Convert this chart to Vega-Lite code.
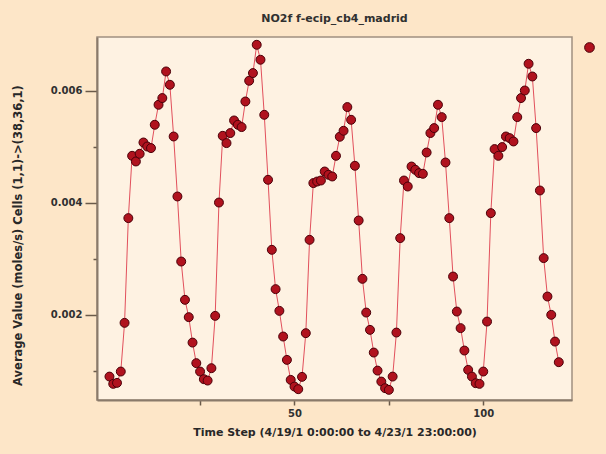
{
  "$schema": "https://vega.github.io/schema/vega-lite/v6.json",
  "width": 475,
  "height": 363,
  "autosize": {"type": "none"},
  "padding": {"left": 97, "top": 37, "right": 34, "bottom": 54},
  "background": "#fde6c8",
  "title": {"text": "NO2f  f-ecip_cb4_madrid", "font": "DejaVu Sans", "fontSize": 11, "fontWeight": "bold", "color": "#303030", "anchor": "middle", "offset": 13},
  "data": {"values": [
    {"step":1,"value":0.000898},{"step":2,"value":0.000768},{"step":3,"value":0.000786},{"step":4,"value":0.000988},
    {"step":5,"value":0.001857},{"step":6,"value":0.003727},{"step":7,"value":0.004839},{"step":8,"value":0.004738},
    {"step":9,"value":0.004875},{"step":10,"value":0.005077},{"step":11,"value":0.005005},{"step":12,"value":0.004977},
    {"step":13,"value":0.005393},{"step":14,"value":0.00575},{"step":15,"value":0.00587},{"step":16,"value":0.006345},
    {"step":17,"value":0.006107},{"step":18,"value":0.005184},{"step":19,"value":0.004113},{"step":20,"value":0.002952},
    {"step":21,"value":0.002268},{"step":22,"value":0.001959},{"step":23,"value":0.001505},{"step":24,"value":0.001138},
    {"step":25,"value":0.000988},{"step":26,"value":0.000852},{"step":27,"value":0.000827},{"step":28,"value":0.001048},
    {"step":29,"value":0.001982},{"step":30,"value":0.004005},{"step":31,"value":0.005196},{"step":32,"value":0.005066},
    {"step":33,"value":0.005245},{"step":34,"value":0.00547},{"step":35,"value":0.005393},{"step":36,"value":0.005352},
    {"step":37,"value":0.005809},{"step":38,"value":0.006179},{"step":39,"value":0.006316},{"step":40,"value":0.006821},
    {"step":41,"value":0.006554},{"step":42,"value":0.005571},{"step":43,"value":0.004411},{"step":44,"value":0.003161},
    {"step":45,"value":0.002459},{"step":46,"value":0.002071},{"step":47,"value":0.001613},{"step":48,"value":0.001196},
    {"step":49,"value":0.000839},{"step":50,"value":0.00072},{"step":51,"value":0.000673},{"step":52,"value":0.000893},
    {"step":53,"value":0.001673},{"step":54,"value":0.003339},{"step":55,"value":0.004352},{"step":56,"value":0.00438},
    {"step":57,"value":0.004398},{"step":58,"value":0.004559},{"step":59,"value":0.0045},{"step":60,"value":0.00447},
    {"step":61,"value":0.004839},{"step":62,"value":0.005179},{"step":63,"value":0.005286},{"step":64,"value":0.005709},
    {"step":65,"value":0.005482},{"step":66,"value":0.004661},{"step":67,"value":0.003684},{"step":68,"value":0.002643},
    {"step":69,"value":0.002041},{"step":70,"value":0.001732},{"step":71,"value":0.001327},{"step":72,"value":0.001005},
    {"step":73,"value":0.000809},{"step":74,"value":0.000691},{"step":75,"value":0.000661},{"step":76,"value":0.000898},
    {"step":77,"value":0.001684},{"step":78,"value":0.00337},{"step":79,"value":0.004398},{"step":80,"value":0.004291},
    {"step":81,"value":0.004648},{"step":82,"value":0.004589},{"step":83,"value":0.00453},{"step":84,"value":0.004518},
    {"step":85,"value":0.004898},{"step":86,"value":0.005245},{"step":87,"value":0.005334},{"step":88,"value":0.00575},
    {"step":89,"value":0.00553},{"step":90,"value":0.00472},{"step":91,"value":0.003727},{"step":92,"value":0.002684},
    {"step":93,"value":0.002059},{"step":94,"value":0.001763},{"step":95,"value":0.001363},{"step":96,"value":0.001018},
    {"step":97,"value":0.000898},{"step":98,"value":0.00078},{"step":99,"value":0.000768},{"step":100,"value":0.000988},
    {"step":101,"value":0.00188},{"step":102,"value":0.003816},{"step":103,"value":0.004959},{"step":104,"value":0.004839},
    {"step":105,"value":0.004995},{"step":106,"value":0.005184},{"step":107,"value":0.005155},{"step":108,"value":0.005095},
    {"step":109,"value":0.00553},{"step":110,"value":0.00587},{"step":111,"value":0.006005},{"step":112,"value":0.006482},
    {"step":113,"value":0.006255},{"step":114,"value":0.005334},{"step":115,"value":0.00422},{"step":116,"value":0.003013},
    {"step":117,"value":0.002327},{"step":118,"value":0.002},{"step":119,"value":0.001523},{"step":120,"value":0.001155}
  ]},
  "encoding": {
    "x": {
      "field": "step", "type": "quantitative",
      "scale": {"domain": [-2.3, 123.5], "nice": false, "zero": false},
      "axis": {
        "values": [25, 50, 75, 100],
        "labelExpr": "datum.value % 50 == 0 ? datum.label : ''",
        "title": "Time Step (4/19/1 0:00:00 to 4/23/1 23:00:00)",
        "grid": false, "tickSize": 5, "tickColor": "#6a5a4a", "tickWidth": 1.5,
        "domainColor": "#8a7a6a", "domainWidth": 2,
        "labelFont": "DejaVu Sans", "labelFontSize": 10, "labelFontWeight": "bold", "labelColor": "#303030", "labelPadding": 3,
        "titleFont": "DejaVu Sans", "titleFontSize": 11, "titleFontWeight": "bold", "titleColor": "#282828", "titlePadding": 8
      }
    },
    "y": {
      "field": "value", "type": "quantitative",
      "scale": {"domain": [0.00048, 0.00696], "nice": false, "zero": false},
      "axis": {
        "values": [0.001, 0.002, 0.003, 0.004, 0.005, 0.006],
        "format": ".3f",
        "labelExpr": "round(datum.value * 1000) % 2 == 0 ? datum.label : ''",
        "title": "Average Value (moles/s) Cells (1,1)->(38,36,1)",
        "grid": false,
        "tickSize": {"condition": {"test": "round(datum.value * 1000) % 2 == 0", "value": 12}, "value": 4},
        "tickColor": "#6a5a4a", "tickWidth": 1.5,
        "domainColor": "#8a7a6a", "domainWidth": 2,
        "labelFont": "DejaVu Sans", "labelFontSize": 10, "labelFontWeight": "bold", "labelColor": "#303030", "labelPadding": 3,
        "titleFont": "DejaVu Sans", "titleFontSize": 11.5, "titleFontWeight": "bold", "titleColor": "#282828",
        "titleX": -79, "titleY": 198, "titleAngle": -90, "titleAlign": "center", "titleBaseline": "middle"
      }
    }
  },
  "layer": [
    {"mark": {"type": "line", "color": "#e2505c", "strokeWidth": 1}},
    {
      "mark": {"type": "point", "filled": true, "size": 80, "stroke": "#4a0008", "strokeWidth": 1, "opacity": 1},
      "encoding": {
        "color": {
          "datum": "NO2f",
          "scale": {"range": ["#b0121e"]},
          "legend": {
            "orient": "none", "legendX": 487, "legendY": 5, "title": null, "padding": 0,
            "labelExpr": "''", "symbolSize": 95, "symbolStrokeColor": "#4a0008", "symbolStrokeWidth": 1,
            "symbolOpacity": 1
          }
        }
      }
    }
  ],
  "config": {"view": {"fill": "#fef2e2", "stroke": "#a09080", "strokeWidth": 1.5}}
}
